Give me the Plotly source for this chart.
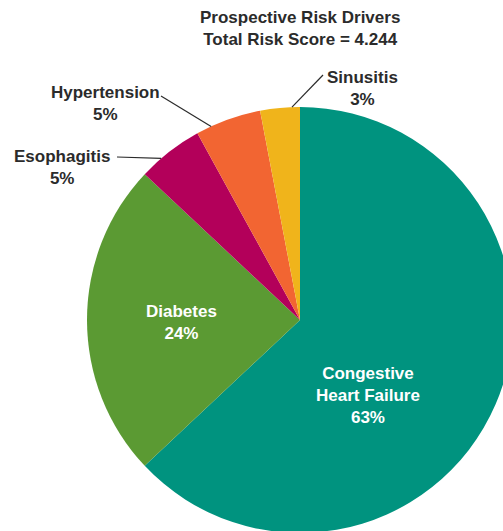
import math
import plotly.graph_objects as go

labels = ["Congestive<br>Heart Failure", "Diabetes", "Esophagitis", "Hypertension", "Sinusitis"]
values = [63, 24, 5, 5, 3]
colors = ["#00937F", "#5B9A33", "#B3005A", "#F26532", "#F0B41B"]
title_lines = ["Prospective Risk Drivers", "Total Risk Score = 4.244"]

OFF = 0            # page body margin (removed below)
W, H = 520, 540
CX, CY, R = 300, 320, 213  # pie centre/radius in window pixels
FONT = "Liberation Sans"
FS = 17
DARK = "#2b2b2b"

def px(x):
    return (x - OFF) / W

def py(y):
    return 1 - (y - OFF) / H

fig = go.Figure(go.Pie(
    labels=labels, values=values, sort=False, direction="clockwise", rotation=0,
    marker=dict(colors=colors, line=dict(width=0)),
    textinfo="none",
    domain=dict(x=[px(CX - R), px(CX + R)], y=[py(CY + R), py(CY - R)]),
    showlegend=False, hoverinfo="label+percent",
))

# label layout: (text centre x, text centre y, font colour, leader start x, y, leader angle fraction)
label_pos = {
    0: (368, 395, "white", None),
    1: (181, 322, "white", None),
    2: (62, 167.5, DARK, (117, 157, 0.34)),
    3: (105, 103.5, DARK, (161, 96, 0.23)),
    4: (362, 88, DARK, (323, 75, 0.8)),
}

total = sum(values)
cum = 0
annotations = []
shapes = []
for i, v in enumerate(values):
    start = cum / total * 360
    span = v / total * 360
    cum += v
    tx, ty, col, leader = label_pos[i]
    annotations.append(dict(x=px(tx), y=py(ty), xref="paper", yref="paper",
                            xanchor="center", yanchor="middle",
                            text=f"<b>{labels[i]}<br>{v}%</b>", showarrow=False,
                            font=dict(family=FONT, size=FS, color=col)))
    if leader:
        lx, ly, frac = leader
        ang = math.radians(start + frac * span)
        ex = CX + R * math.sin(ang)
        ey = CY - R * math.cos(ang)
        shapes.append(dict(type="line", xref="paper", yref="paper",
                           x0=px(lx), y0=py(ly), x1=px(ex), y1=py(ey),
                           line=dict(color=DARK, width=1.2)))

annotations.append(dict(x=px(300), y=py(29), xref="paper", yref="paper",
                        xanchor="center", yanchor="middle",
                        text="<b>" + "<br>".join(title_lines) + "</b>", showarrow=False,
                        font=dict(family=FONT, size=FS, color=DARK)))

fig.update_layout(width=W, height=H, margin=dict(l=0, r=0, t=0, b=0),
                  paper_bgcolor="white", plot_bgcolor="white",
                  annotations=annotations, shapes=shapes)
fig.write_html("out.html",
               config={"displayModeBar": False},
               post_script="document.body.style.margin='0';"
                           "document.documentElement.style.overflow='hidden';"
                           "document.body.style.overflow='hidden';")
